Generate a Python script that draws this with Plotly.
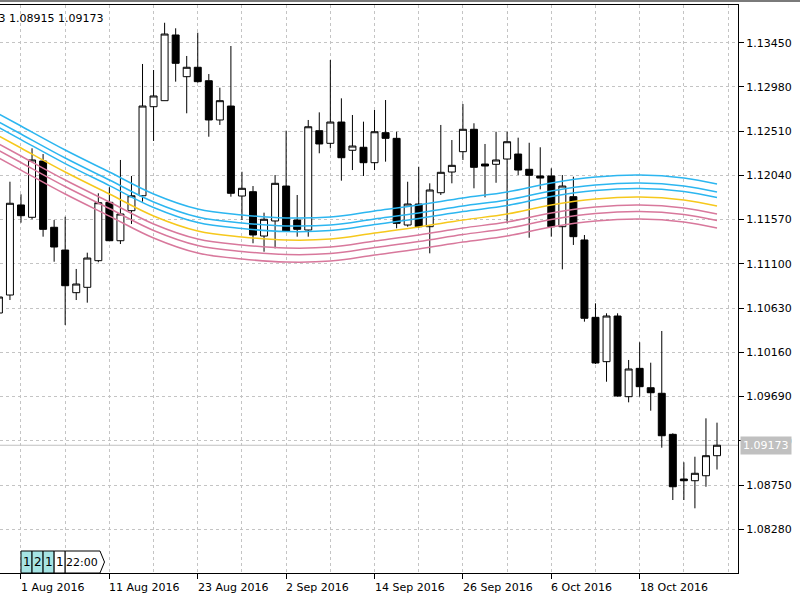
import plotly.graph_objects as go

# ---------------- data ----------------
bars = list(range(-2, 64))   # bar index, 0 = 1 Aug 2016
opens = [1.10578, 1.10769, 1.11726, 1.11595, 1.12193, 1.11489, 1.11247, 1.10794, 1.10851, 1.11134,
         1.11754, 1.11346, 1.11665, 1.11824, 1.12770, 1.12834, 1.13532, 1.13089, 1.13189, 1.13046,
         1.12629, 1.12777, 1.11821, 1.11867, 1.11396, 1.11556, 1.11927, 1.11566, 1.11460, 1.12515,
         1.12381, 1.12607, 1.12307, 1.12339, 1.12175, 1.12494, 1.12434, 1.11513, 1.11736, 1.11495,
         1.11856, 1.12076, 1.12292, 1.12530, 1.12161, 1.12158, 1.12214, 1.12267, 1.12105, 1.12034,
         1.12034, 1.11495, 1.11814, 1.11354, 1.10532, 1.10061, 1.10546, 1.09689, 1.09990, 1.09784,
         1.09725, 1.09289, 1.08814, 1.08796, 1.08849, 1.09062]
highs = [1.10822, 1.11973, 1.11839, 1.12328, 1.12267, 1.11566, 1.11601, 1.11046, 1.11219, 1.11850,
         1.11914, 1.12204, 1.12034, 1.13224, 1.13160, 1.13662, 1.13603, 1.13309, 1.13556, 1.13117,
         1.12972, 1.13415, 1.12079, 1.11927, 1.11644, 1.12044, 1.12515, 1.11832, 1.12629, 1.12710,
         1.13266, 1.12859, 1.12682, 1.12611, 1.12735, 1.12841, 1.12504, 1.11973, 1.12132, 1.11956,
         1.12576, 1.12416, 1.12799, 1.12594, 1.12374, 1.12504, 1.12504, 1.12441, 1.12387, 1.12339,
         1.12115, 1.12044, 1.12026, 1.11407, 1.10681, 1.10575, 1.10575, 1.10079, 1.10267, 1.10050,
         1.10387, 1.09300, 1.08992, 1.09051, 1.09459, 1.09413]
lows = [1.10546, 1.10716, 1.11538, 1.11574, 1.11389, 1.11123, 1.10451, 1.10716, 1.10688, 1.11117,
        1.11343, 1.11311, 1.11524, 1.11761, 1.12406, 1.12834, 1.13036, 1.12700, 1.13025, 1.12451,
        1.12576, 1.11814, 1.11566, 1.11319, 1.11229, 1.11265, 1.11442, 1.11389, 1.11389, 1.12275,
        1.12328, 1.11984, 1.12097, 1.12034, 1.12097, 1.12186, 1.11478, 1.11495, 1.11481, 1.11212,
        1.11832, 1.11956, 1.12204, 1.11903, 1.11807, 1.11962, 1.11531, 1.12044, 1.11378, 1.11892,
        1.11389, 1.11042, 1.11301, 1.10486, 1.10036, 1.09848, 1.09689, 1.09629, 1.09689, 1.09540,
        1.09147, 1.08591, 1.08591, 1.08503, 1.08732, 1.08915]
closes = [1.10748, 1.11744, 1.11612, 1.12204, 1.11467, 1.11279, 1.10868, 1.10886, 1.11162, 1.11750,
          1.11346, 1.11630, 1.11824, 1.12777, 1.12884, 1.13542, 1.13231, 1.13189, 1.13036, 1.12629,
          1.12834, 1.11850, 1.11903, 1.11407, 1.11574, 1.11956, 1.11446, 1.11467, 1.12557, 1.12374,
          1.12607, 1.12228, 1.12352, 1.12175, 1.12504, 1.12434, 1.11531, 1.11736, 1.11495, 1.11885,
          1.12073, 1.12147, 1.12530, 1.12126, 1.12140, 1.12204, 1.12398, 1.12097, 1.12041, 1.12012,
          1.11495, 1.11927, 1.11389, 1.10522, 1.10047, 1.10546, 1.09696, 1.09983, 1.09795, 1.09731,
          1.09274, 1.08732, 1.08796, 1.08875, 1.09062, 1.09173]

ma_x = [-2, 0, 4, 8, 12, 16, 20, 24, 28, 32, 36, 40, 44, 48, 52, 56, 60, 63]
ma_blue1 = [1.12693, 1.12565, 1.12310, 1.12076, 1.11843, 1.11683, 1.11620, 1.11588, 1.11598, 1.11662,
            1.11726, 1.11800, 1.11864, 1.11960, 1.12023, 1.12045, 1.12013, 1.11949]
ma_blue2 = [1.12608, 1.12480, 1.12225, 1.11991, 1.11758, 1.11598, 1.11535, 1.11503, 1.11513, 1.11577,
            1.11641, 1.11715, 1.11779, 1.11875, 1.11938, 1.11960, 1.11928, 1.11864]
ma_blue3 = [1.12549, 1.12421, 1.12166, 1.11932, 1.11699, 1.11539, 1.11476, 1.11444, 1.11454, 1.11518,
            1.11582, 1.11656, 1.11720, 1.11816, 1.11879, 1.11901, 1.11869, 1.11805]
ma_yellow = [1.12459, 1.12331, 1.12076, 1.11842, 1.11609, 1.11449, 1.11386, 1.11354, 1.11364, 1.11428,
             1.11492, 1.11566, 1.11630, 1.11726, 1.11789, 1.11811, 1.11779, 1.11715]
ma_pink1 = [1.12374, 1.12246, 1.11991, 1.11757, 1.11524, 1.11364, 1.11301, 1.11269, 1.11279, 1.11343,
            1.11407, 1.11481, 1.11545, 1.11641, 1.11704, 1.11726, 1.11694, 1.11630]
ma_pink2 = [1.12305, 1.12177, 1.11922, 1.11688, 1.11455, 1.11295, 1.11232, 1.11200, 1.11210, 1.11274,
            1.11338, 1.11412, 1.11476, 1.11572, 1.11635, 1.11657, 1.11625, 1.11561]
ma_pink3 = [1.12225, 1.12097, 1.11842, 1.11608, 1.11375, 1.11215, 1.11152, 1.11120, 1.11130, 1.11194,
            1.11258, 1.11332, 1.11396, 1.11492, 1.11555, 1.11577, 1.11545, 1.11481]

date_ticks = [0, 8, 16, 24, 32, 40, 48, 56]
date_labels = ["1 Aug 2016", "11 Aug 2016", "23 Aug 2016", "2 Sep 2016",
               "14 Sep 2016", "26 Sep 2016", "6 Oct 2016", "18 Oct 2016"]
price_ticks = [1.08280, 1.08750, 1.09220, 1.09690, 1.10160, 1.10630,
               1.11100, 1.11570, 1.12040, 1.12510, 1.12980, 1.13450]
price_labels = ["%.5f" % v for v in price_ticks]

bid_price = 1.09173
info_text = "1.09413 1.08915 1.09173"
button_labels = ["1", "2", "1", "1"]
button_colors = ["#a6e4e4", "#a6e4e4", "#a6e4e4", "#ffffff"]
time_label = "22:00"

FONT = "DejaVu Sans"
GRID = "#c4c4c4"
X_RANGE = [-1.9, 64.9]
Y_RANGE = [1.078156, 1.138506]

# ---------------- figure ----------------
fig = go.Figure()

fig.add_trace(go.Candlestick(
    x=bars, open=opens, high=highs, low=lows, close=closes,
    increasing=dict(fillcolor="#ffffff", line=dict(color="#000000", width=1)),
    decreasing=dict(fillcolor="#000000", line=dict(color="#000000", width=1)),
    whiskerwidth=0, hoverinfo="skip", showlegend=False,
))

for series, color in [(ma_pink3, "#d8789c"), (ma_pink2, "#d8789c"), (ma_pink1, "#d8789c"),
                      (ma_yellow, "#f6c81c"),
                      (ma_blue3, "#2cb6f0"), (ma_blue2, "#2cb6f0"), (ma_blue1, "#2cb6f0")]:
    fig.add_trace(go.Scatter(x=ma_x, y=series, mode="lines",
                             line=dict(color=color, width=1.5, shape="spline", smoothing=1.0),
                             hoverinfo="skip", showlegend=False))

shapes = []
# bid line
shapes.append(dict(type="line", xref="paper", x0=0, x1=1, yref="y", y0=bid_price, y1=bid_price,
                   line=dict(color="#c0c0c0", width=1), layer="below"))
# top gray strip
shapes.append(dict(type="rect", xref="paper", x0=0, x1=800 / 738, yref="paper",
                   y0=1 + 3 / 568, y1=1 + 6 / 568, fillcolor="#7a7a7a", line=dict(width=0)))

annotations = []
# date labels (left aligned at tick like MT4)
for k, lab in zip(date_ticks, date_labels):
    annotations.append(dict(x=k, xref="x", y=-6 / 568, yref="paper", text=lab, showarrow=False,
                            xanchor="left", yanchor="top", xshift=-2,
                            font=dict(family=FONT, size=11, color="#000000")))
# info line
annotations.append(dict(x=105 / 738, xref="paper", y=(573 - 19) / 568, yref="paper", text=info_text,
                        showarrow=False, xanchor="right", yanchor="middle",
                        font=dict(family=FONT, size=11, color="#000000")))
# bid label
annotations.append(dict(x=1, xref="paper", xshift=2, y=bid_price, yref="y", text=bid_price and "%.5f" % bid_price,
                        showarrow=False, xanchor="left", yanchor="middle", bgcolor="#c0c0c0",
                        borderpad=2, font=dict(family=FONT, size=11, color="#ffffff")))

# bottom-left buttons
btn_top = 22 / 568
for i, (lab, col) in enumerate(zip(button_labels, button_colors)):
    shapes.append(dict(type="rect", xref="x", x0=i, x1=i + 1, yref="paper", y0=0, y1=btn_top,
                       fillcolor=col, line=dict(color="#000000", width=1)))
    annotations.append(dict(x=i + 0.5, xref="x", y=btn_top / 2, yref="paper", text=lab, showarrow=False,
                            xanchor="center", yanchor="middle",
                            font=dict(family=FONT, size=12, color="#000000")))
shapes.append(dict(type="path", xref="x", yref="paper",
                   path="M 4,0 L 4,%f L 7.15,%f L 7.56,%f L 7.15,0 Z" % (btn_top, btn_top, btn_top / 2),
                   fillcolor="#ffffff", line=dict(color="#000000", width=1)))
annotations.append(dict(x=5.55, xref="x", y=btn_top / 2, yref="paper", text=time_label, showarrow=False,
                        xanchor="center", yanchor="middle",
                        font=dict(family=FONT, size=11, color="#000000")))

fig.update_layout(
    width=800, height=600,
    margin=dict(l=0, r=62, t=5, b=27, pad=0),
    paper_bgcolor="#ffffff", plot_bgcolor="#ffffff",
    showlegend=False, boxgap=0.1, boxgroupgap=0.3,
    shapes=shapes, annotations=annotations,
    font=dict(family=FONT, size=11, color="#000000"),
)
fig.update_xaxes(
    range=X_RANGE, tickmode="array", tickvals=date_ticks, showticklabels=False,
    ticks="outside", ticklen=5, tickcolor="#000000", tickwidth=1,
    showgrid=True, gridcolor=GRID, griddash="3px,3px", gridwidth=1,
    minor=dict(tickmode="linear", tick0=0, dtick=4, showgrid=True, gridcolor=GRID,
               griddash="3px,3px", ticks=""),
    showline=True, linecolor="#000000", linewidth=1, mirror=True,
    zeroline=False, rangeslider=dict(visible=False), fixedrange=True,
)
fig.update_yaxes(
    range=Y_RANGE, side="right", tickmode="array", tickvals=price_ticks, ticktext=price_labels,
    ticks="outside", ticklen=5, tickcolor="#000000", tickwidth=1,
    tickfont=dict(family=FONT, size=11, color="#000000"),
    showgrid=True, gridcolor=GRID, griddash="3px,3px", gridwidth=1,
    showline=True, linecolor="#000000", linewidth=1, mirror=False,
    zeroline=False, automargin=False, fixedrange=True,
)

fig.write_html("out.html")
